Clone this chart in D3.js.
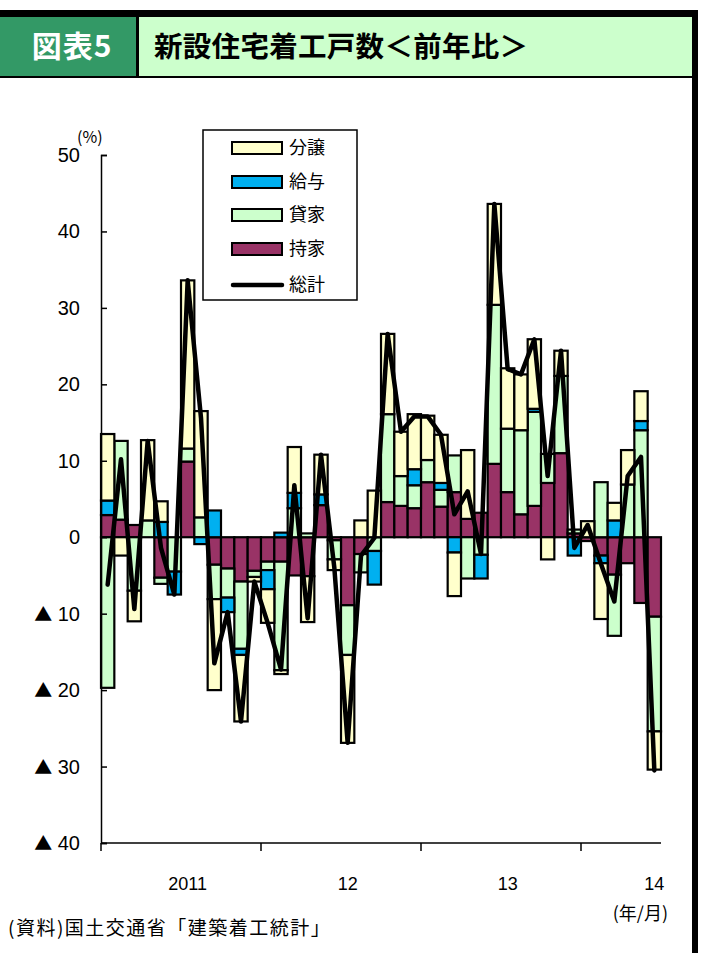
<!DOCTYPE html>
<html><head><meta charset="utf-8">
<script src="https://cdn.jsdelivr.net/npm/d3@7"></script>
<style>body{margin:0;background:#fff;}svg{display:block;}</style>
</head><body>
<svg id="c" width="704" height="953"></svg>
<script>
// ---- data ----
const categories = ["2010/7","2010/8","2010/9","2010/10","2010/11","2010/12",
  "2011/1","2011/2","2011/3","2011/4","2011/5","2011/6","2011/7","2011/8","2011/9","2011/10","2011/11","2011/12",
  "2012/1","2012/2","2012/3","2012/4","2012/5","2012/6","2012/7","2012/8","2012/9","2012/10","2012/11","2012/12",
  "2013/1","2013/2","2013/3","2013/4","2013/5","2013/6","2013/7","2013/8","2013/9","2013/10","2013/11","2013/12"];
const seriesNames = ["持家","貸家","給与","分譲"];
const mochiie = [2.9,2.3,1.6,0,-5.3,0,9.9,0,-3.6,-4.1,-5.8,-4.4,-3.2,-3.2,-5.0,-5.1,4.2,-0.4,-8.9,-2.2,0,
  4.6,4.1,3.8,7.2,4.0,5.9,2.4,3.2,9.6,5.9,3.0,4.1,7.1,11.0,0.5,-0.5,-2.4,-4.9,-3.4,-8.6,-10.4];
const kashiya = [-19.7,10.3,-7.0,2.2,-0.8,-4.5,1.7,2.6,-4.5,-3.8,-8.8,-0.8,-1.1,-14.2,3.8,0.5,0,-2.5,-6.5,-2.4,-1.8,
  11.5,3.9,3.0,2.9,2.2,4.8,-5.4,-2.3,20.8,8.3,11.0,12.3,3.8,10.1,0.5,0,7.2,-8.0,6.9,14.0,-15.0];
const kyuyo = [1.9,0,0,0,2.0,-3.0,0,-0.9,3.5,-1.9,-0.8,0,-2.5,0.6,2.0,0,1.4,0,0,0,-4.4,
  0,0,2.1,0,0.9,-2.0,0,-3.1,0,0,0,0.4,0,0,-2.4,0,-1.0,2.2,0,1.2,0];
const bunjo = [8.7,-2.4,-4.0,10.5,2.7,0,22.0,13.9,-11.9,0,-8.7,-0.6,-4.4,-0.5,6.0,-6.0,5.2,-1.4,-11.5,2.2,6.1,
  10.5,5.8,7.2,5.8,6.3,-5.7,9.0,0,13.2,7.9,7.3,9.1,-2.9,3.3,0,2.1,-7.3,2.3,4.5,3.9,-5.0];
const total = [-6.2,10.2,-9.4,12.6,-1.4,-7.5,33.6,15.6,-16.5,-9.8,-24.1,-5.8,-11.2,-17.3,6.8,-10.6,10.8,-4.0,-26.9,-2.4,-0.1,
  26.6,13.8,15.8,15.8,13.4,3.0,6.0,-2.2,43.6,22.0,21.3,25.9,8.0,24.4,-1.4,1.6,-3.5,-8.4,8.0,10.5,-30.5];
const yTicks = [50,40,30,20,10,0,-10,-20,-30,-40];
const yearTicks = ["2010/7","2011/7","2012/7","2013/7"];
const xLabelCats = ["2011/1","2012/1","2013/1","2013/12"];
const xLabelTexts = ["2011","12","13","14"];
const legendNames = ["分譲","給与","貸家","持家","総計"];
const colors = {"持家":"#993366","貸家":"#CCFFCC","給与":"#00B0F0","分譲":"#FFFFCC"};

// ---- chart ----
const svg = d3.select("#c");
const JP = "'Noto Sans CJK JP','Noto Sans',sans-serif";
const NUM = "'Liberation Sans',Arial,sans-serif";

// header
svg.append("rect").attr("x",0).attr("y",16).attr("width",139).attr("height",61).attr("fill","#339966");
svg.append("rect").attr("x",139).attr("y",16).attr("width",555).attr("height",61).attr("fill","#CCFFCC");
svg.append("rect").attr("x",0).attr("y",10).attr("width",698).attr("height",7).attr("fill","#000");
svg.append("rect").attr("x",136).attr("y",16).attr("width",3).attr("height",61).attr("fill","#000");
svg.append("rect").attr("x",0).attr("y",76).attr("width",694).attr("height",2).attr("fill","#000");
svg.append("rect").attr("x",692).attr("y",10).attr("width",6).attr("height",943).attr("fill","#000");
svg.append("text").attr("x",72).attr("y",57).attr("text-anchor","middle")
  .attr("font-family",JP).attr("font-weight",700).attr("font-size",30).attr("letter-spacing",1)
  .attr("fill","#fff").text("図表5");
svg.append("text").attr("x",154).attr("y",57)
  .attr("font-family",JP).attr("font-weight",700).attr("font-size",28.5).attr("letter-spacing",0.3)
  .attr("fill","#000").text("新設住宅着工戸数＜前年比＞");

const x = d3.scaleBand().domain(categories).range([101,661]).padding(0);
const y = d3.scaleLinear().domain([-40,50]).range([843,155]);

const rows = categories.map((c,i)=>({cat:c,"持家":mochiie[i],"貸家":kashiya[i],"給与":kyuyo[i],"分譲":bunjo[i]}));
const stack = d3.stack().keys(seriesNames).offset(d3.stackOffsetDiverging)(rows);

const g = svg.append("g");
stack.forEach(s=>{
  g.append("g").selectAll("rect").data(s.filter(d=>d[1]!==d[0])).join("rect")
    .attr("x",d=>x(d.data.cat)).attr("width",x.bandwidth())
    .attr("y",d=>y(Math.max(d[0],d[1]))).attr("height",d=>Math.abs(y(d[0])-y(d[1])))
    .attr("fill",colors[s.key]).attr("stroke","#000").attr("stroke-width",2.2);
});

// axes
const yAxis = d3.axisRight(y).tickValues(yTicks).tickSize(6).tickFormat("");
const ya = svg.append("g").attr("transform","translate(101,0)").call(yAxis);
ya.select(".domain").attr("stroke","#000").attr("stroke-width",1.5);
ya.selectAll(".tick line").attr("stroke","#000").attr("stroke-width",1.5);
const yl = svg.append("g").selectAll("text").data(yTicks).join("text")
  .attr("x",80).attr("y",d=>y(d)+7).attr("text-anchor","end")
  .attr("font-family",NUM).attr("font-size",20).attr("fill","#000");
yl.filter(d=>d<0).append("tspan").attr("font-family",JP).attr("font-size",18).text("▲");
yl.append("tspan").text(d=>d<0?" "+(-d):String(d));
svg.append("text").attr("x",77).attr("y",143).attr("font-family",JP).attr("font-size",16).text("(%)");

const xAxisLine = svg.append("g").attr("transform","translate(0,843)");
xAxisLine.append("line").attr("x1",101).attr("x2",661).attr("stroke","#000").attr("stroke-width",1.5);
xAxisLine.selectAll("line.t").data(yearTicks).join("line").attr("class","t")
  .attr("x1",d=>x(d)).attr("x2",d=>x(d)).attr("y1",0).attr("y2",8).attr("stroke","#000").attr("stroke-width",1.5);
svg.append("g").selectAll("text").data(xLabelCats).join("text")
  .attr("x",d=>x(d)+x.bandwidth()/2).attr("y",890).attr("text-anchor","middle")
  .attr("font-family",NUM).attr("font-size",18).text((d,i)=>xLabelTexts[i]);
svg.append("text").attr("x",668).attr("y",920).attr("text-anchor","end")
  .attr("font-family",JP).attr("font-size",18).text("(年/月)");
svg.append("text").attr("x",8).attr("y",935)
  .attr("font-family",JP).attr("font-size",19).attr("letter-spacing",1.5).text("(資料)国土交通省「建築着工統計」");

// total line
const line = d3.line().x((d,i)=>x(categories[i])+x.bandwidth()/2).y(d=>y(d));
svg.append("path").datum(total).attr("d",line).attr("fill","none").attr("stroke","#000")
  .attr("stroke-width",4.5).attr("stroke-linejoin","round").attr("stroke-linecap","round");

// legend
const lg = svg.append("g");
lg.append("rect").attr("x",203).attr("y",130).attr("width",154).attr("height",170)
  .attr("fill","#fff").attr("stroke","#000").attr("stroke-width",1.5);
const ly = [148,182,215,249,285];
legendNames.forEach((n,i)=>{
  if(n==="総計"){
    lg.append("line").attr("x1",233).attr("x2",282).attr("y1",ly[i]).attr("y2",ly[i])
      .attr("stroke","#000").attr("stroke-width",4.5).attr("stroke-linecap","round");
  } else {
    lg.append("rect").attr("x",232).attr("y",ly[i]-6).attr("width",50).attr("height",12)
      .attr("fill",colors[n]).attr("stroke","#000").attr("stroke-width",2);
  }
  lg.append("text").attr("x",289).attr("y",ly[i]+6).attr("font-family",JP).attr("font-size",18).text(n);
});
</script>
</body></html>
